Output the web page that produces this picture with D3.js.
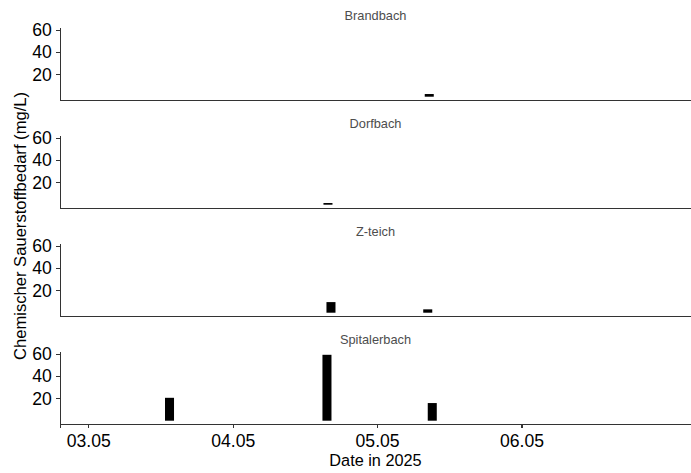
<!DOCTYPE html>
<html>
<head>
<meta charset="utf-8" />
<title>Chemischer Sauerstoffbedarf 2025</title>
<script src="https://cdn.jsdelivr.net/npm/d3@7"></script>
<style>
  body { margin: 0; background: #fff; }
  svg text { font-family: "Liberation Sans", Arial, sans-serif; }
  .axis path, .axis line { stroke: #333; stroke-width: 1.1px; shape-rendering: crispEdges; }
  .axis text { fill: #000; font-size: 17.6px; }
  .strip { fill: #4d4d4d; font-size: 12.8px; }
  .title { fill: #000; font-size: 16.3px; }
</style>
</head>
<body>
<script>
// sites (one panel each, top to bottom)
var siteNames = ["Brandbach", "Dorfbach", "Z-teich", "Spitalerbach"];

// samples: site, time, CSB in mg/L
var sampleSite = ["Brandbach", "Dorfbach", "Z-teich", "Z-teich", "Spitalerbach", "Spitalerbach", "Spitalerbach"];
var sampleTime = ["2025-05-05 08:40", "2025-05-04 15:50", "2025-05-04 16:20", "2025-05-05 08:25",
                  "2025-05-03 13:30", "2025-05-04 15:40", "2025-05-05 09:10"];
var sampleValue = [2.4, 1.5, 9.5, 3.0, 20.5, 59, 15.8];

var xTicks = ["2025-05-03", "2025-05-04", "2025-05-05", "2025-05-06"];
var yTicks = [20, 40, 60];

var parseTime = d3.timeParse("%Y-%m-%d %H:%M");
var parseDay = d3.timeParse("%Y-%m-%d");

var data = sampleSite.map(function(s, i) {
  return { site: s, time: parseTime(sampleTime[i]), value: sampleValue[i] };
});

var W = 691, H = 473;
var margin = {left: 60, right: 0, top: 27.5};
var panelH = 72.5, panelStep = 108;
var barMinutes = 90;

var svg = d3.select("body").append("svg")
    .attr("width", W)
    .attr("height", H);

// x scale, date limits chosen so 03.05 .. 06.05 land where the ticks are
var x = d3.scaleTime()
    .domain([parseTime("2025-05-02 19:18"), parseTime("2025-05-07 04:10")])
    .range([margin.left, W - margin.right]);

var yMax = d3.max(data, function(d) { return d.value; });

siteNames.forEach(function(site, i) {
  var top = margin.top + i * panelStep;
  var bottom = top + panelH;

  // ggplot style 5% expansion
  var y = d3.scaleLinear()
      .domain([-0.05 * yMax, 1.05 * yMax])
      .range([bottom, top]);

  var g = svg.append("g");

  // strip label
  g.append("text")
    .attr("class", "strip")
    .attr("x", (margin.left + W - margin.right) / 2)
    .attr("y", top - 7.5)
    .attr("text-anchor", "middle")
    .text(site);

  // bars
  g.selectAll("rect")
    .data(data.filter(function(d) { return d.site == site; }))
    .enter()
    .append("rect")
      .attr("x", function(d) { return x(d3.timeMinute.offset(d.time, -barMinutes / 2)); })
      .attr("width", function(d) {
        return x(d3.timeMinute.offset(d.time, barMinutes / 2)) - x(d3.timeMinute.offset(d.time, -barMinutes / 2));
      })
      .attr("y", function(d) { return y(d.value); })
      .attr("height", function(d) { return y(0) - y(d.value); })
      .attr("fill", "#000");

  // y axis
  g.append("g")
    .attr("class", "axis")
    .attr("transform", "translate(" + margin.left + ",0)")
    .call(d3.axisLeft(y).tickValues(yTicks).tickSize(3.7).tickSizeOuter(0).tickPadding(4.6));

  // x axis: ticks + labels only on the last panel
  var xa = d3.axisBottom(x).tickSizeOuter(0);
  if (i == siteNames.length - 1) {
    xa.tickValues(xTicks.map(parseDay)).tickFormat(d3.timeFormat("%d.%m")).tickSize(3.7).tickPadding(6.5);
  } else {
    xa.tickValues([]);
  }
  g.append("g")
    .attr("class", "axis")
    .attr("transform", "translate(0," + bottom + ")")
    .call(xa);
});

// axis titles
svg.append("text")
  .attr("class", "title")
  .attr("x", (margin.left + W - margin.right) / 2)
  .attr("y", 466)
  .attr("text-anchor", "middle")
  .text("Date in 2025");

svg.append("text")
  .attr("class", "title")
  .style("font-size", "16.6px")
  .attr("transform", "translate(26,226)rotate(-90)")
  .attr("text-anchor", "middle")
  .text("Chemischer Sauerstoffbedarf (mg/L)");
</script>
</body>
</html>
